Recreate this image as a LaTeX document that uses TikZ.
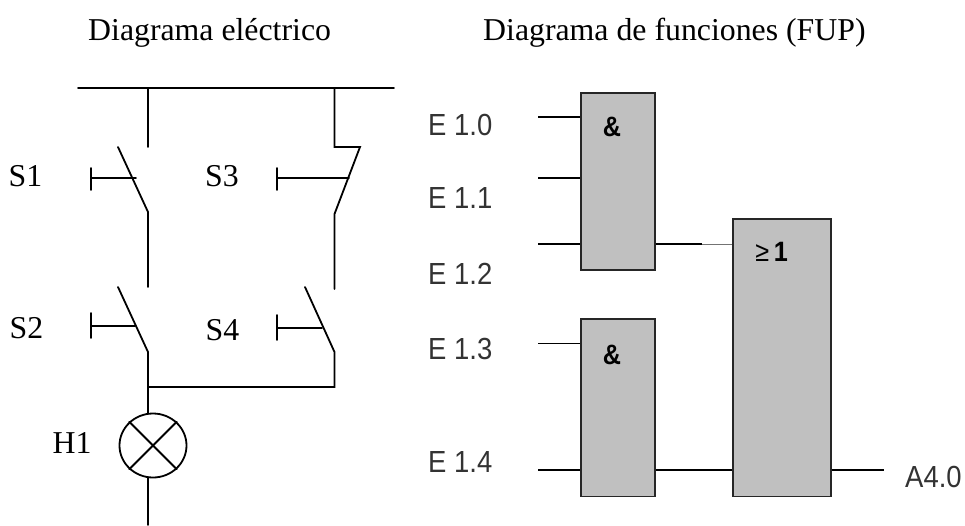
\documentclass[tikz,border=0pt]{standalone}
\usepackage{fontspec}
\setmainfont{Liberation Serif}
\newfontfamily\plcfont[FakeStretch=0.9]{Liberation Sans}
\usetikzlibrary{positioning}
\usetikzlibrary{shapes.geometric}
\definecolor{gategray}{HTML}{C0C0C0}
\definecolor{plctext}{HTML}{333333}
\tikzset{wire/.style={line width=1.8pt,line cap=round},}
\tikzset{plcwire/.style={line width=1.6pt},}
\tikzset{gate node/.style={rectangle,fill=gategray,draw=black!85,line width=1.6pt,anchor=north west,inner sep=0pt},}
\tikzset{title node/.style={font=\fontsize{31.8}{34}\selectfont,inner sep=0pt},}
\tikzset{plc label/.style={font=\plcfont\fontsize{30.5}{33}\selectfont,text=plctext,inner sep=0pt},}
\tikzset{gate label/.style={font=\plcfont\bfseries\fontsize{28}{30}\selectfont,inner sep=0pt},}

\begin{document}
\begin{tikzpicture}[x=1pt,y=1pt]
	\useasboundingbox (0,0) rectangle (965,-525);
	\node[title node,anchor=base west] (title1) at (88,-40) {Diagrama eléctrico};
	\node[title node,anchor=base west] (title2) at (483,-40) {Diagrama de funciones (FUP)};

	% circuit
	\coordinate (busl) at (78,-88);
	\coordinate (busr) at (394,-88);
	\coordinate (s1a) at (148,-88);
	\coordinate (s1b) at (148,-147);
	\coordinate (s1c) at (118,-147);
	\coordinate (s1d) at (148,-212);
	\coordinate (s1e) at (148,-287);
	\coordinate (s3a) at (334.5,-88);
	\coordinate (s3b) at (334.5,-147);
	\coordinate (s3c) at (360,-147);
	\coordinate (s3d) at (334.5,-214);
	\coordinate (s3e) at (334.5,-289);
	\coordinate (s2c) at (118,-287);
	\coordinate (s2d) at (148,-352);
	\coordinate (s4c) at (305,-287);
	\coordinate (s4d) at (334.5,-352);
	\coordinate (s4e) at (334.5,-387);
	\coordinate (join) at (148,-387);
	\coordinate (lampend) at (148,-525);

	\node[draw,ellipse,line width=1.8pt,minimum width=67pt,minimum height=64pt,inner sep=0pt] (h1) at (153,-445.5) {};
	\coordinate (lamptop) at (h1.north -| s1a);
	\coordinate (lampbot) at (h1.south -| s1a);

	\node[title node] (ls1) at (25.5,-175.7) {S1};
	\node[title node] (ls3) at (222,-175.7) {S3};
	\node[title node] (ls2) at (26.5,-328.3) {S2};
	\node[title node] (ls4) at (222.5,-330) {S4};
	\node[title node] (lh1) at (72,-443) {H1};

	\draw[wire] (busl) -- (busr);
	\draw[wire] (s1a) -- (s1b);
	\draw[wire] (s1c) -- (s1d) -- (s1e);
	\draw[wire] (s3a) -- (s3b) -- (s3c) -- (s3d) -- (s3e);
	\draw[wire] (s2c) -- (s2d) -- (lamptop);
	\draw[wire] (s4c) -- (s4d) -- (s4e) -- (join);
	\draw[wire] (lampbot) -- (lampend);
	\draw[wire] (h1.45) -- (h1.225);
	\draw[wire] (h1.135) -- (h1.315);

	% push buttons
	\foreach \name/\xa/\ya/\yb/\ym/\xb in {p1/91/-168/-190/-178/136,p3/277/-168/-190/-178/349,p2/91/-313/-338/-326/135,p4/277/-315/-340/-328/322}{
		\coordinate (\name t) at (\xa,\ya);
		\coordinate (\name b) at (\xa,\yb);
		\coordinate (\name m) at (\xa,\ym);
		\coordinate (\name e) at (\xb,\ym);
		\draw[wire] (\name t) -- (\name b);
		\draw[wire] (\name m) -- (\name e);
	}

	% gates
	\node[gate node,minimum width=74pt,minimum height=177pt] (and1) at (580,-92) {};
	\node[gate node,minimum width=74pt,minimum height=177.7pt] (and2) at (580,-318) {};
	\node[gate node,minimum width=98pt,minimum height=277.7pt] (or1) at (732,-218) {};
	\node[gate label] (and1l) at (612,-127) {\&};
	\node[gate label] (and2l) at (612,-355) {\&};
	\node[gate label] (or1l) at (771.5,-251.5) {{\mdseries ≥}\,1};

	\node[plc label,anchor=west] (e10) at (428,-124.5) {E 1.0};
	\node[plc label,anchor=west] (e11) at (428,-198) {E 1.1};
	\node[plc label,anchor=west] (e12) at (428,-274) {E 1.2};
	\node[plc label,anchor=west] (e13) at (428,-348.5) {E 1.3};
	\node[plc label,anchor=west] (e14) at (428,-461.5) {E 1.4};
	\node[plc label,anchor=west] (a40) at (905,-477) {A4.0};

	\coordinate (i0) at (538,-117);
	\coordinate (i1) at (538,-178);
	\coordinate (i2) at (538,-244);
	\coordinate (i3) at (538,-343.5);
	\coordinate (i4) at (538,-470);
	\coordinate (o1) at (884,-470);
	\coordinate (fade) at (702,-244);

	\foreach \from/\to in {i0/and1,i1/and1,i2/and1,i3/and2,i4/and2}
		\draw[plcwire] (\from) -- (\from -| \to.west);
	\draw[plcwire] (i2 -| and1.east) -- (fade);
	\draw[line width=1pt,black!55] (fade) -- (i2 -| or1.west);
	\draw[plcwire] (i4 -| and2.east) -- (i4 -| or1.west);
	\draw[plcwire] (o1 -| or1.east) -- (o1);
\end{tikzpicture}
\end{document}
